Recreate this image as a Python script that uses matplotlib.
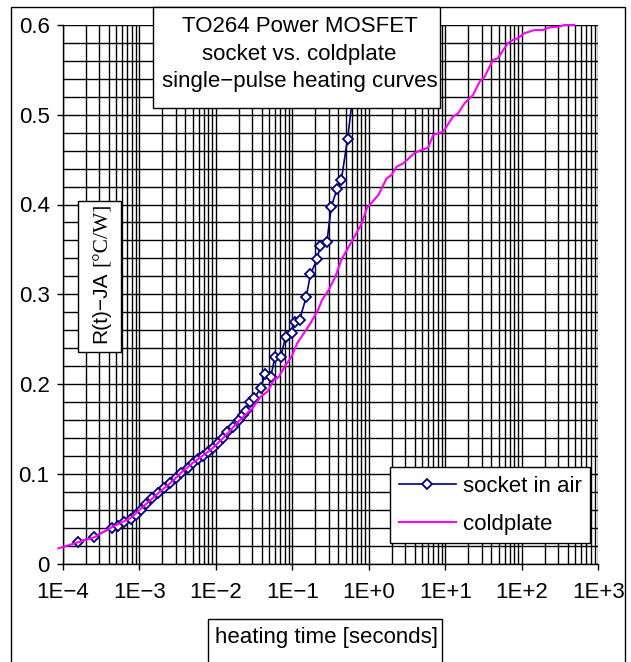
import numpy as np
import matplotlib
matplotlib.use("Agg")
import matplotlib.pyplot as plt
from matplotlib.patches import Rectangle
from matplotlib.ticker import FixedLocator, FixedFormatter, LogLocator, MultipleLocator, NullFormatter

# ---------------- data ----------------
socket_t = [1.57e-4, 2.55e-4, 4.4e-4, 5.3e-4, 6.3e-4, 7.7e-4, 9.1e-4, 1.06e-3, 1.24e-3,
            1.48e-3, 1.75e-3, 2.14e-3, 2.54e-3, 3.03e-3, 3.52e-3, 4.30e-3, 4.99e-3, 5.80e-3,
            6.73e-3, 7.82e-3, 9.09e-3, 1.08e-2, 1.26e-2, 1.42e-2, 1.70e-2, 2.02e-2, 2.25e-2,
            2.45e-2, 2.80e-2, 3.15e-2, 3.87e-2, 4.40e-2, 5.22e-2, 5.94e-2, 7.05e-2, 8.19e-2,
            9.80e-2, 0.110, 0.1245, 0.152, 0.173, 0.211, 0.233, 0.284, 0.324, 0.384, 0.438,
            0.528, 0.80]
socket_r = [0.024, 0.0295, 0.040, 0.042, 0.046, 0.050, 0.054, 0.060, 0.0665,
            0.0725, 0.078, 0.0838, 0.0894, 0.0956, 0.101, 0.1065, 0.112, 0.1165,
            0.120, 0.124, 0.1285, 0.134, 0.140, 0.1465, 0.152, 0.160, 0.166,
            0.170, 0.180, 0.184, 0.195, 0.211, 0.2075, 0.2298, 0.2298, 0.2527,
            0.2565, 0.2694, 0.2713, 0.2966, 0.3222, 0.339, 0.354, 0.3586, 0.3976, 0.417, 0.4273,
            0.4727, 0.600]

cold_t = [8.8e-5, 1.57e-4, 2.55e-4, 4.4e-4, 7.7e-4, 1.24e-3, 1.75e-3, 2.54e-3, 3.52e-3,
          4.99e-3, 6.73e-3, 9.09e-3, 1.26e-2, 1.70e-2, 2.02e-2, 0.0301, 0.0387, 0.0472,
          0.0577, 0.0670, 0.0818, 0.098, 0.1159, 0.1416, 0.173, 0.217, 0.245, 0.299, 0.366,
          0.438, 0.518, 0.632, 0.811, 0.942, 1.337, 1.715, 1.99, 2.31, 2.83, 4.01, 4.66,
          5.97, 6.94, 9.36, 12.6, 14.7, 17.9, 23.0, 28.1, 32.7, 41.9, 48.6, 65.6, 76.2,
          88.5, 108, 146, 187, 229, 308, 358, 483]
cold_r = [0.0169, 0.0235, 0.029, 0.0405, 0.0505, 0.0665, 0.078, 0.0894, 0.101,
          0.112, 0.120, 0.1285, 0.140, 0.152, 0.159, 0.1729, 0.1859, 0.1914,
          0.2045, 0.2081, 0.2212, 0.2304, 0.2454, 0.2565, 0.2676, 0.2825, 0.2936, 0.3047, 0.3196,
          0.3382, 0.3493, 0.3623, 0.379, 0.3958, 0.4106, 0.4292, 0.4329, 0.4421, 0.4459, 0.4577, 0.46,
          0.4633, 0.4774, 0.4811, 0.4978, 0.5016, 0.5128, 0.522, 0.5368, 0.5424, 0.561, 0.5629, 0.5796, 0.5833,
          0.5852, 0.5908, 0.5944, 0.5944, 0.5974, 0.5981, 0.600, 0.600]

x_ticks = [1e-4, 1e-3, 1e-2, 1e-1, 1e0, 1e1, 1e2, 1e3]
x_ticklabels = ['1E\u22124', '1E\u22123', '1E\u22122', '1E\u22121', '1E+0', '1E+1', '1E+2', '1E+3']
y_ticks = [0, 0.1, 0.2, 0.3, 0.4, 0.5, 0.6]
y_ticklabels = ['0', '0.1', '0.2', '0.3', '0.4', '0.5', '0.6']

title_lines = ['TO264 Power MOSFET', 'socket vs. coldplate', 'single\u2212pulse heating curves']
series_names = ['socket in air', 'coldplate']
xlabel_text = 'heating time [seconds]'
ylabel_a = 'R(t)\u2212JA'
ylabel_b = '[\u00b0C/W]'

# ---------------- figure ----------------
W, H = 631, 662
FS = 16
SANS = 'Liberation Sans'
SERIF = 'Liberation Serif'
plt.rcParams['font.family'] = [SANS, 'DejaVu Sans']

fig = plt.figure(figsize=(W / 100, H / 100), dpi=100)
fig.patch.set_facecolor('white')

def fx(px):
    return px / W

def fy(py):
    return 1 - py / H

x0, x1, y0, y1 = 62.7, 598.3, 25.0, 563.5
ax = fig.add_axes([fx(x0), fy(y1), fx(x1) - fx(x0), fy(y0) - fy(y1)])
ax.set_xscale('log')
ax.set_xlim(1e-4, 1e3)
ax.set_ylim(0, 0.6)

ax.xaxis.set_major_locator(FixedLocator(x_ticks))
ax.xaxis.set_major_formatter(FixedFormatter(x_ticklabels))
ax.xaxis.set_minor_locator(LogLocator(base=10, subs=np.arange(2, 10), numticks=20))
ax.xaxis.set_minor_formatter(NullFormatter())
ax.yaxis.set_major_locator(FixedLocator(y_ticks))
ax.yaxis.set_major_formatter(FixedFormatter(y_ticklabels))
ax.yaxis.set_minor_locator(MultipleLocator(0.02))

ax.grid(True, which='both', color='black', linewidth=1.0)
ax.set_axisbelow(True)
ax.tick_params(which='minor', length=0)
ax.tick_params(axis='both', which='major', direction='out', length=4.5, width=1.0,
               color='black', labelsize=FS)
ax.tick_params(axis='y', pad=5)
ax.tick_params(axis='x', pad=9)
for s in ['top', 'right']:
    ax.spines[s].set_visible(False)
for s in ['left', 'bottom']:
    ax.spines[s].set_color('black')
    ax.spines[s].set_linewidth(1.0)

ax.plot(socket_t, socket_r, color='#000080', linewidth=1.2, marker='D', markersize=4.8,
        markerfacecolor='white', markeredgecolor='#000080', markeredgewidth=1.3,
        label=series_names[0], clip_on=False, zorder=3)
ax.plot(cold_t, cold_r, color='#FF00FF', linewidth=1.5, label=series_names[1],
        clip_on=False, zorder=4)

leg = ax.legend(loc='upper left', bbox_to_anchor=(fx(390), fy(467)),
                bbox_transform=fig.transFigure, borderaxespad=0, fancybox=False,
                edgecolor='black', framealpha=1, fontsize=FS, borderpad=0.4,
                handlelength=2.57, handletextpad=0.3, labelspacing=0.75)
leg.get_frame().set_linewidth(1.0)

# outer chart border
fig.add_artist(Rectangle((fx(11), fy(700)), fx(625) - fx(11), fy(6.7) - fy(700),
                         transform=fig.transFigure, fill=False, edgecolor='black',
                         linewidth=1.0, clip_on=False, zorder=0.5))

# title box
fig.add_artist(Rectangle((fx(153), fy(108)), fx(440) - fx(153), fy(6.7) - fy(108),
                         transform=fig.transFigure, facecolor='white', edgecolor='black',
                         linewidth=1.0, zorder=5))
for line, yb in zip(title_lines, [32.3, 59.7, 87.3]):
    fig.text(fx(299.5), fy(yb), line, ha='center', va='baseline', fontsize=FS,
             family=[SANS, 'DejaVu Sans'], zorder=6)

# y label box
fig.add_artist(Rectangle((fx(77.5), fy(352)), fx(120.7) - fx(77.5), fy(201.5) - fy(352),
                         transform=fig.transFigure, facecolor='white', edgecolor='black',
                         linewidth=1.0, zorder=5))
fig.text(fx(106.5), fy(343.3), ylabel_a, rotation=90, rotation_mode='anchor',
         ha='left', va='baseline', fontsize=15, family=[SANS, 'DejaVu Sans'], zorder=6)
fig.text(fx(106.5), fy(265.5), ylabel_b, rotation=90, rotation_mode='anchor',
         ha='left', va='baseline', fontsize=15.5, family=[SERIF, 'DejaVu Serif'], zorder=6)

# x label box
fig.add_artist(Rectangle((fx(208), fy(700)), fx(442) - fx(208), fy(619) - fy(700),
                         transform=fig.transFigure, facecolor='white', edgecolor='black',
                         linewidth=1.0, zorder=5, clip_on=False))
fig.text(fx(215), fy(643.3), xlabel_text, ha='left', va='baseline', fontsize=FS,
         family=[SANS, 'DejaVu Sans'], zorder=6)

fig.savefig('out.png', dpi=100, facecolor='white')
